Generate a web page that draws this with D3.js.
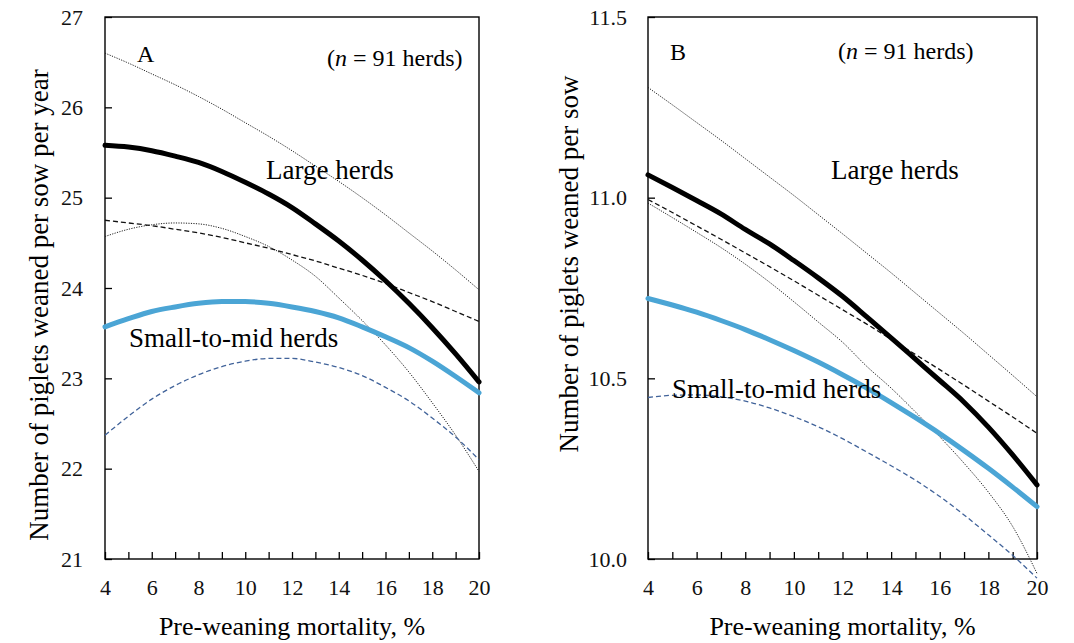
<!DOCTYPE html>
<html>
<head>
<meta charset="utf-8">
<script src="https://cdn.jsdelivr.net/npm/d3@7"></script>
<style>
  body { margin: 0; background: #fff; }
  svg { display: block; font-family: "Liberation Serif", "Times New Roman", serif; }
</style>
</head>
<body>
<div id="chart-area"></div>
<script>
//Data
var mortality = [4, 5, 6, 7, 8, 9, 10, 11, 12, 13, 14, 15, 16, 17, 18, 19, 20];
var xTickLabels = [4, 6, 8, 10, 12, 14, 16, 18, 20];
var yTicksA = [21, 22, 23, 24, 25, 26, 27];
var yTicksB = [10.0, 10.5, 11.0, 11.5];

// Panel A - piglets weaned per sow per year
var largeA   = [25.58, 25.56, 25.52, 25.46, 25.39, 25.29, 25.17, 25.04, 24.89, 24.71, 24.52, 24.31, 24.08, 23.83, 23.56, 23.27, 22.96];
var largeHiA = [26.60, 26.49, 26.37, 26.25, 26.12, 25.98, 25.83, 25.68, 25.52, 25.35, 25.18, 25.00, 24.81, 24.61, 24.41, 24.20, 23.98];
var largeLoA = [24.57, 24.65, 24.70, 24.72, 24.71, 24.66, 24.57, 24.46, 24.31, 24.13, 23.89, 23.64, 23.37, 23.07, 22.73, 22.37, 21.97];
var smallA   = [23.57, 23.66, 23.74, 23.79, 23.83, 23.85, 23.85, 23.83, 23.79, 23.74, 23.67, 23.57, 23.46, 23.34, 23.19, 23.02, 22.84];
var smallHiA = [24.75, 24.72, 24.69, 24.65, 24.61, 24.56, 24.50, 24.44, 24.37, 24.30, 24.22, 24.14, 24.05, 23.95, 23.85, 23.74, 23.63];
var smallLoA = [22.37, 22.58, 22.77, 22.92, 23.04, 23.13, 23.19, 23.22, 23.22, 23.18, 23.12, 23.03, 22.90, 22.75, 22.56, 22.35, 22.10];

// Panel B - piglets weaned per sow
var largeB   = [11.063, 11.028, 10.992, 10.955, 10.912, 10.872, 10.826, 10.778, 10.727, 10.670, 10.612, 10.553, 10.494, 10.434, 10.365, 10.288, 10.205];
var largeHiB = [11.305, 11.257, 11.208, 11.159, 11.108, 11.057, 11.006, 10.953, 10.900, 10.846, 10.792, 10.736, 10.680, 10.624, 10.566, 10.508, 10.449];
var largeLoB = [10.985, 10.945, 10.904, 10.862, 10.816, 10.766, 10.712, 10.656, 10.600, 10.533, 10.473, 10.407, 10.338, 10.265, 10.185, 10.090, 9.960];
var smallB   = [10.721, 10.703, 10.683, 10.660, 10.635, 10.607, 10.577, 10.545, 10.510, 10.473, 10.433, 10.391, 10.347, 10.300, 10.251, 10.199, 10.145];
var smallHiB = [10.995, 10.959, 10.922, 10.885, 10.847, 10.809, 10.770, 10.730, 10.690, 10.650, 10.608, 10.566, 10.524, 10.481, 10.437, 10.393, 10.348];
var smallLoB = [10.447, 10.453, 10.454, 10.449, 10.437, 10.418, 10.394, 10.366, 10.333, 10.296, 10.258, 10.218, 10.173, 10.122, 10.067, 10.010, 9.947];

var blue = '#4ba5d5';
var darkBlue = '#41639a';

//SVG
var svg = d3.select('#chart-area')
    .append('svg')
        .attr('width', 1074)
        .attr('height', 643);

var styles = {
    thick:  {stroke: '#000', width: 5, dash: null},
    thickB: {stroke: blue, width: 5, dash: null},
    dotted: {stroke: '#222', width: 1, dash: '1.2,1.3'},
    dashed: {stroke: '#111', width: 1.3, dash: '5,3'},
    dashedB:{stroke: darkBlue, width: 1.3, dash: '5,3'}
};

function drawPanel(p){
    var g = svg.append('g');

    //X Scale
    var x = d3.scaleLinear()
        .domain([4, 20])
        .range([p.left, p.right]);

    //Y Scale
    var y = d3.scaleLinear()
        .domain(p.yDomain)
        .range([559, 17]);

    //X Axis
    var xAxisCall = d3.axisBottom(x)
        .tickValues(mortality)
        .tickSizeInner(-7)
        .tickSizeOuter(0)
        .tickPadding(20)
        .tickFormat(function(d){ return xTickLabels.indexOf(d) >= 0 ? d : ''; });
    var xa = g.append('g')
        .attr('class', 'x axis')
        .attr('transform', 'translate(0,559)')
        .call(xAxisCall);

    //Y Axis
    var yAxisCall = d3.axisLeft(y)
        .tickValues(p.yTicks)
        .tickSizeInner(-7)
        .tickSizeOuter(0)
        .tickPadding(p.yPad)
        .tickFormat(p.yFormat);
    var ya = g.append('g')
        .attr('class', 'y axis')
        .attr('transform', 'translate(' + p.left + ',0)')
        .call(yAxisCall);

    [xa, ya].forEach(function(a){
        a.attr('font-family', null).attr('font-size', 22);
        a.select('.domain').remove();
        a.selectAll('.tick line').attr('stroke', '#000').attr('stroke-width', 1.3);
        a.selectAll('.tick text').attr('fill', '#111');
    });

    //Frame
    g.append('rect')
        .attr('x', p.left)
        .attr('y', 17)
        .attr('width', p.right - p.left)
        .attr('height', 559 - 17)
        .attr('fill', 'none')
        .attr('stroke', '#000')
        .attr('stroke-width', 1.4);

    //Lines
    var line = d3.line()
        .x(function(d, i){ return x(mortality[i]); })
        .y(function(d){ return y(d); })
        .curve(d3.curveMonotoneX);

    p.series.forEach(function(s){
        var st = styles[s.style];
        g.append('path')
            .attr('d', line(s.values))
            .attr('fill', 'none')
            .attr('stroke', st.stroke)
            .attr('stroke-width', st.width)
            .attr('stroke-dasharray', st.dash)
            .attr('stroke-linecap', st.dash ? 'butt' : 'round');
    });

    //Labels
    g.append('text')
        .attr('x', p.letter[0])
        .attr('y', p.letter[1])
        .attr('font-size', 24)
        .text(p.letter[2]);

    var n = g.append('text')
        .attr('x', p.nLabel[0])
        .attr('y', p.nLabel[1])
        .attr('font-size', 24);
    n.append('tspan').text('(');
    n.append('tspan').attr('font-style', 'italic').text('n');
    n.append('tspan').text(' = 91 herds)');

    g.append('text')
        .attr('x', p.large[0])
        .attr('y', p.large[1])
        .attr('font-size', 27)
        .text('Large herds');

    g.append('text')
        .attr('x', p.small[0])
        .attr('y', p.small[1])
        .attr('font-size', 27)
        .text('Small-to-mid herds');

    //X Label
    g.append('text')
        .attr('x', (p.left + p.right) / 2)
        .attr('y', 635)
        .attr('font-size', 26)
        .attr('text-anchor', 'middle')
        .text('Pre-weaning mortality, %');

    //Y Label
    g.append('text')
        .attr('transform', 'translate(' + p.yTitle[0] + ',' + p.yTitle[1] + ') rotate(-90)')
        .attr('font-size', 27)
        .attr('text-anchor', 'middle')
        .text(p.yTitle[2]);
}

drawPanel({
    left: 105, right: 479,
    yDomain: [21, 27], yTicks: yTicksA, yPad: 22,
    yFormat: function(d){ return d; },
    series: [
        {values: largeHiA, style: 'dotted'},
        {values: largeLoA, style: 'dotted'},
        {values: smallHiA, style: 'dashed'},
        {values: smallLoA, style: 'dashedB'},
        {values: smallA, style: 'thickB'},
        {values: largeA, style: 'thick'}
    ],
    letter: [137, 62, 'A'],
    nLabel: [327, 66],
    large: [266, 179],
    small: [129, 347],
    yTitle: [48, 305, 'Number of piglets weaned per sow per year']
});

drawPanel({
    left: 648, right: 1037,
    yDomain: [10, 11.5], yTicks: yTicksB, yPad: 21,
    yFormat: d3.format('.1f'),
    series: [
        {values: largeHiB, style: 'dotted'},
        {values: largeLoB, style: 'dotted'},
        {values: smallHiB, style: 'dashed'},
        {values: smallLoB, style: 'dashedB'},
        {values: smallB, style: 'thickB'},
        {values: largeB, style: 'thick'}
    ],
    letter: [670, 60, 'B'],
    nLabel: [838, 59],
    large: [831, 179],
    small: [672, 398],
    yTitle: [578, 264, 'Number of piglets weaned per sow']
});
</script>
</body>
</html>
